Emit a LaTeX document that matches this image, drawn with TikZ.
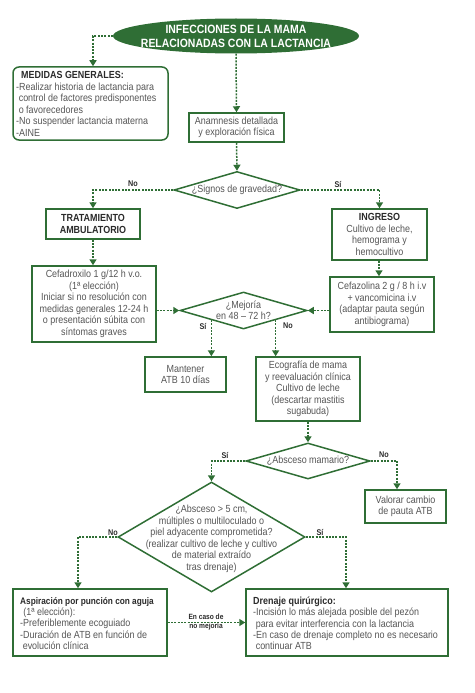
\documentclass[tikz,border=0pt]{standalone}
\usepackage{fontspec}
\setmainfont{Liberation Sans}[FakeStretch=0.87]
\usetikzlibrary{arrows.meta,shapes.geometric}
\definecolor{gr}{HTML}{2F6E35}
\definecolor{tx}{HTML}{555555}
\definecolor{dk}{HTML}{2A2A2A}
\begin{document}
\begin{tikzpicture}[x=1pt,y=-1pt,
  box/.style={draw=gr, line width=1.5pt, inner sep=3pt, text=tx, font=\fontsize{10.3}{11.5}\selectfont, align=center},
  ebox/.style={draw=gr, line width=1.5pt, inner sep=0pt},
  ltext/.style={text=tx, inner sep=0pt, anchor=west, align=left},
  dia/.style={draw=gr, line width=1.5pt, shape=diamond, inner sep=0pt},
  dtext/.style={text=tx, font=\fontsize{10.3}{11.5}\selectfont, align=center},
  con/.style={draw=gr, line width=1.5pt, dash pattern=on 2pt off 1.3pt, -{Triangle[width=7pt,length=6pt]}},
  lab/.style={font=\fontsize{8.3}{9}\selectfont\bfseries, text=dk}]
\useasboundingbox (0,0) rectangle (474,693);

% title
\node[ellipse, fill=gr, minimum width=246, minimum height=35, inner sep=0pt] (title) at (236,36) {};
\node[text=white, font=\fontsize{12}{14}\selectfont\bfseries, align=center] (titletxt) at (title) {INFECCIONES DE LA MAMA\\RELACIONADAS CON LA LACTANCIA};

% medidas
\node[ebox, rounded corners=6pt, minimum width=155, minimum height=73] (med) at (90.5,103.5) {};
\node[ltext, font=\fontsize{10.3}{11.6}\selectfont] (medtxt) at (16,104)
 {\hspace*{5pt}{\bfseries\color{dk}MEDIDAS GENERALES:}\\
  -Realizar historia de lactancia para\\
  \hspace*{0.25em}control de factores predisponentes\\
  \hspace*{0.25em}o favorecedores\\
  -No suspender lactancia materna\\
  -AINE};

\node[box, minimum width=95, minimum height=29] (anam) at (236.5,127.5) {Anamnesis detallada\\y exploración física};

\node[dia, minimum width=126, minimum height=37] (sig) at (237,190) {};
\node[dtext] (sigtxt) at (sig) {¿Signos de gravedad?};

\node[box, minimum width=94, minimum height=30, font=\fontsize{10.3}{12}\selectfont\bfseries, text=dk] (trat) at (93,224) {TRATAMIENTO\\AMBULATORIO};

\node[box, minimum width=95, minimum height=51] (ing) at (379.5,234.5) {{\bfseries\color{dk}INGRESO}\\Cultivo de leche,\\hemograma y\\hemocultivo};

\node[box, minimum width=124, minimum height=76] (cefa) at (94,304) {Cefadroxilo 1 g/12 h v.o.\\(1ª elección)\\Iniciar si no resolución con\\medidas generales 12-24 h\\o presentación súbita con\\síntomas graves};

\node[box, minimum width=104, minimum height=55] (cefz) at (382,304.5) {Cefazolina 2 g / 8 h i.v\\+ vancomicina i.v\\(adaptar pauta según\\antibiograma)};

\node[dia, minimum width=127, minimum height=37] (mej) at (243.5,310.5) {};
\node[dtext] (mejtxt) at (mej) {¿Mejoría\\en 48 – 72 h?};

\node[box, minimum width=81, minimum height=35] (man) at (185.5,374.5) {Mantener\\ATB 10 días};

\node[box, minimum width=104, minimum height=64] (eco) at (308,389) {Ecografía de mama\\y reevaluación clínica\\Cultivo de leche\\(descartar mastitis\\sugabuda)};

\node[dia, minimum width=124, minimum height=36] (abs) at (308,461) {};
\node[dtext] (abstxt) at (abs) {¿Absceso mamario?};

\node[box, minimum width=81, minimum height=33] (val) at (405.5,506.5) {Valorar cambio\\de pauta ATB};

\node[dia, minimum width=187, minimum height=110] (big) at (211.5,537) {};
\node[dtext] (bigtxt) at (211.5,539) {¿Absceso > 5 cm,\\múltiples o multiloculado o\\piel adyacente comprometida?\\(realizar cultivo de leche y cultivo\\de material extraído\\tras drenaje)};

\node[ebox, minimum width=154, minimum height=67] (asp) at (90,622.5) {};
\node[ltext, font=\fontsize{10.3}{11.3}\selectfont] (asptxt) at (20,623.5)
 {{\fontsize{9.5}{11.3}\selectfont\bfseries\color{dk}Aspiración por punción con aguja}\\
  \hspace*{0.3em}(1ª elección):\\
  -Preferiblemente ecoguiado\\
  -Duración de ATB en función de\\
  \hspace*{0.25em}evolución clínica};

\node[ebox, minimum width=202, minimum height=67] (dre) at (347,622.5) {};
\node[ltext, font=\fontsize{10.3}{11.3}\selectfont] (dretxt) at (253,623.5)
 {{\bfseries\color{dk}Drenaje quirúrgico:}\\
  -Incisión lo más alejada posible del pezón\\
  \hspace*{0.25em}para evitar interferencia con la lactancia\\
  -En caso de drenaje completo no es necesario\\
  \hspace*{0.25em}continuar ATB};

% connectors
\coordinate (c1) at (93,36);
\draw[con] (title.west) -- (c1) -- (med.north -| c1);
\draw[con] (title.south) -- (anam.north);
\draw[con] (anam.south) -- (sig.north);
\draw[con] (sig.west) -- (sig.west -| trat.north) -- (trat.north);
\draw[con] (sig.east) -- (sig.east -| ing.north) -- (ing.north);
\node[lab] (lno1) at (133,184) {No};
\node[lab] (lsi1) at (338,184) {Sí};
\draw[con] (trat.south) -- (trat.south |- cefa.north);
\draw[con] (ing.south -| 379,0) -- (cefz.north -| 379,0);
\draw[con] (cefa.east |- mej.west) -- (mej.west);
\draw[con] (cefz.west |- mej.east) -- (mej.east);
\draw[con] (mej.south west) -- (mej.south west |- man.north);
\draw[con] (mej.south east) -- (mej.south east |- eco.north);
\node[lab] (lsi2) at (203,326) {Sí};
\node[lab] (lno2) at (288,326) {No};
\draw[con] (eco.south) -- (abs.north);
\coordinate (c2) at (397,461);
\draw[con] (abs.west) -- (abs.west -| big.north) -- (big.north);
\draw[con] (abs.east) -- (c2) -- (c2 |- val.north);
\node[lab] (lsi3) at (225,455) {Sí};
\node[lab] (lno3) at (384,455) {No};
\coordinate (c3) at (78,537);
\coordinate (c4) at (346,537);
\draw[con] (big.west) -- (c3) -- (c3 |- asp.north);
\draw[con] (big.east) -- (c4) -- (c4 |- dre.north);
\node[lab] (lno4) at (113,533) {No};
\node[lab] (lsi4) at (320,532) {Sí};
\draw[con] (asp.east) -- (dre.west);
\node[lab, font=\fontsize{7.6}{9.5}\selectfont\bfseries, align=center] (lcaso) at (206,622) {En caso de\\no mejoría};
\end{tikzpicture}
\end{document}
